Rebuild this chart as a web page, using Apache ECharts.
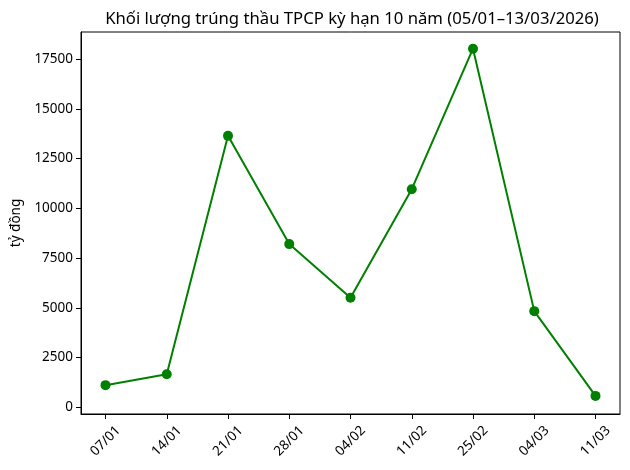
<!DOCTYPE html>
<html>
<head>
<meta charset="utf-8">
<script src="https://cdn.jsdelivr.net/npm/echarts@6/dist/echarts.min.js"></script>
<style>html,body{margin:0;padding:0;background:#fff}#c{width:630px;height:470px}</style>
</head>
<body>
<div id="c"></div>
<script>
const categories = ['07/01','14/01','21/01','28/01','04/02','11/02','25/02','04/03','11/03'];
const values = [1110, 1660, 13640, 8200, 5500, 10960, 18020, 4830, 570];
const yTicks = [0, 2500, 5000, 7500, 10000, 12500, 15000, 17500];
const xTicks = categories.map((_, i) => i);

const chart = echarts.init(document.getElementById('c'), null, {renderer: 'canvas'});
const font = '"Noto Sans", "DejaVu Sans", sans-serif';
chart.setOption({
  animation: false,
  backgroundColor: '#fff',
  title: {
    text: 'Khối lượng trúng thầu TPCP kỳ hạn 10 năm (05/01–13/03/2026)',
    left: 347, top: 6, textAlign: 'center',
    textStyle: {fontFamily: font, fontSize: 16.7, fontWeight: 'normal', color: '#000'}
  },
  grid: {left: 81, right: 10, top: 32, bottom: 56, show: true, borderColor: '#000', borderWidth: 1, containLabel: false},
  xAxis: {
    type: 'value', min: -0.4, max: 8.4,
    splitLine: {show: false},
    axisLine: {show: true, onZero: false, lineStyle: {color: '#000', width: 1}},
    axisTick: {show: true, length: 5, lineStyle: {color: '#000'}, customValues: xTicks},
    axisLabel: {
      customValues: xTicks, rotate: 45, align: 'center', verticalAlign: 'middle',
      color: '#000', fontFamily: font, fontSize: 13.5, margin: 27,
      formatter: v => categories[Math.round(v)]
    }
  },
  yAxis: {
    type: 'value', min: -340, max: 18860,
    name: 'tỷ đồng', nameLocation: 'middle', nameGap: 54, nameRotate: 90,
    nameTextStyle: {fontFamily: font, fontSize: 13.5, color: '#000'},
    splitLine: {show: false},
    axisLine: {show: true, onZero: false, lineStyle: {color: '#000', width: 1}},
    axisTick: {show: true, length: 5, inside: false, lineStyle: {color: '#000'}, customValues: yTicks},
    axisLabel: {customValues: yTicks, color: '#000', fontFamily: font, fontSize: 13.5, margin: 8,
      formatter: v => String(v)}
  },
  series: [{
    type: 'line',
    data: values.map((v, i) => [i, v]),
    symbol: 'circle', symbolSize: 10,
    lineStyle: {color: '#008000', width: 2},
    itemStyle: {color: '#008000'}
  }]
});
</script>
</body>
</html>
